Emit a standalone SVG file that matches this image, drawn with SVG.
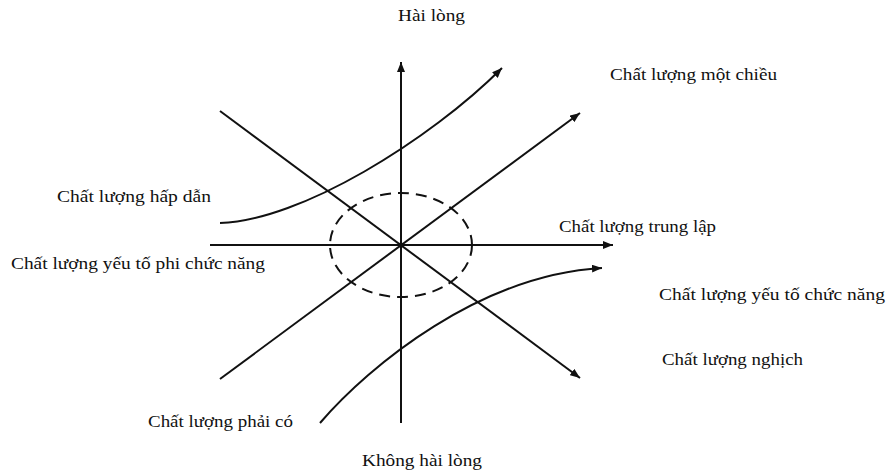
<svg xmlns="http://www.w3.org/2000/svg" width="886" height="472" viewBox="0 0 886 472">
<style>
.ln{fill:none;stroke:#111;stroke-width:2}
.dash{fill:none;stroke:#111;stroke-width:2;stroke-dasharray:11 7}
text{font-family:"Liberation Serif","Times New Roman",serif;font-size:17px;fill:#111}
</style>
<defs>
<marker id="ah" viewBox="0 0 10 8" refX="10" refY="4" markerWidth="10" markerHeight="8" markerUnits="userSpaceOnUse" orient="auto">
<path d="M0,0 L10,4 L0,8 Z" fill="#111"/>
</marker>
</defs>
<rect width="886" height="472" fill="#fff"/>
<g id="connectors">
<line class="ln" x1="210" y1="245" x2="613" y2="245" marker-end="url(#ah)"/>
<line class="ln" x1="401" y1="423" x2="401" y2="62" marker-end="url(#ah)"/>
<line class="ln" x1="220" y1="111" x2="580" y2="378" marker-end="url(#ah)"/>
<line class="ln" x1="220" y1="379" x2="580" y2="113" marker-end="url(#ah)"/>
<path class="ln" d="M220,223 C300,221 430,140 502,68" marker-end="url(#ah)"/>
<path class="ln" d="M320,423 C370,365 480,275 602,268" marker-end="url(#ah)"/>
<ellipse class="dash" cx="401" cy="245" rx="71" ry="52"/>
<circle cx="401" cy="245" r="2.5" fill="#111"/>
</g>
<g id="label-hailong"><text x="398" y="21" textLength="67" lengthAdjust="spacingAndGlyphs">Hài lòng</text></g>
<g id="label-motchieu"><text x="610" y="80" textLength="167" lengthAdjust="spacingAndGlyphs">Chất lượng một chiều</text></g>
<g id="label-hapdan"><text x="57" y="202" textLength="154" lengthAdjust="spacingAndGlyphs">Chất lượng hấp dẫn</text></g>
<g id="label-trunglap"><text x="559" y="232" textLength="157" lengthAdjust="spacingAndGlyphs">Chất lượng trung lập</text></g>
<g id="label-phichucnang"><text x="11" y="269" textLength="254" lengthAdjust="spacingAndGlyphs">Chất lượng yếu tố phi chức năng</text></g>
<g id="label-chucnang"><text x="659" y="300" textLength="226" lengthAdjust="spacingAndGlyphs">Chất lượng yếu tố chức năng</text></g>
<g id="label-nghich"><text x="662" y="365" textLength="141" lengthAdjust="spacingAndGlyphs">Chất lượng nghịch</text></g>
<g id="label-phaico"><text x="148" y="427" textLength="145" lengthAdjust="spacingAndGlyphs">Chất lượng phải có</text></g>
<g id="label-khonghailong"><text x="362" y="466" textLength="120" lengthAdjust="spacingAndGlyphs">Không hài lòng</text></g>
</svg>
